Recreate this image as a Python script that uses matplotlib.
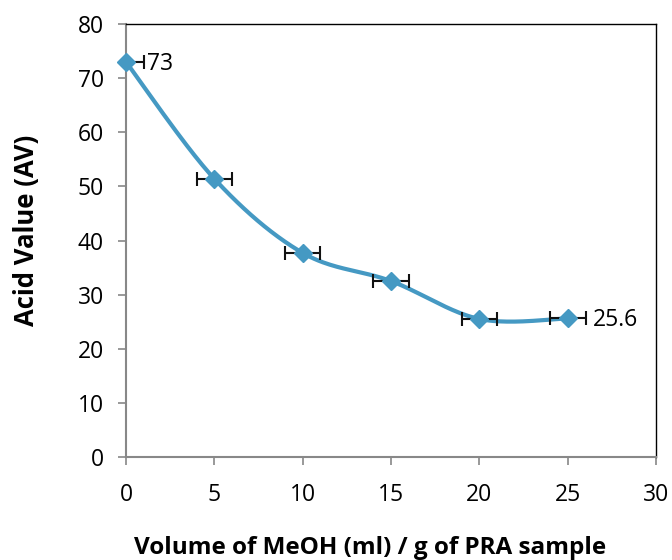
import numpy as np
import matplotlib.pyplot as plt

# datos
volumen = [0, 5, 10, 15, 20, 25]
acidez = [73, 51.4, 37.7, 32.5, 25.5, 25.6]
error_x = [1, 1, 1, 1, 1, 1]

color_linea = '#4599C3'

plt.rcParams['font.family'] = ['Open Sans', 'DejaVu Sans']


# curva suavizada estilo Excel (Bezier con puntos de control de los vecinos)
def suavizar(x, y, n=40):
    x = np.asarray(x, float)
    y = np.asarray(y, float)
    px = np.concatenate([[x[0]], x, [x[-1]]])
    py = np.concatenate([[y[0]], y, [y[-1]]])
    xs, ys = [], []
    t = np.linspace(0, 1, n)
    for i in range(1, len(px) - 2):
        p0 = np.array([px[i], py[i]])
        p3 = np.array([px[i + 1], py[i + 1]])
        p1 = p0 + (np.array([px[i + 1], py[i + 1]]) - np.array([px[i - 1], py[i - 1]])) / 6
        p2 = p3 - (np.array([px[i + 2], py[i + 2]]) - np.array([px[i], py[i]])) / 6
        b = ((1 - t) ** 3)[:, None] * p0 + (3 * (1 - t) ** 2 * t)[:, None] * p1 \
            + (3 * (1 - t) * t ** 2)[:, None] * p2 + (t ** 3)[:, None] * p3
        xs.extend(b[:, 0])
        ys.extend(b[:, 1])
    return xs, ys


fig = plt.figure(figsize=(6.72, 5.6), dpi=100)
ax = fig.add_axes([0.1875, 0.184, 0.789, 0.773])

xs, ys = suavizar(volumen, acidez)
ax.plot(xs, ys, color=color_linea, lw=3, zorder=2)
ax.errorbar(volumen, acidez, xerr=error_x, fmt='none', ecolor='#111111',
            elinewidth=1.5, capsize=5, capthick=1.5, zorder=3)
ax.plot(volumen, acidez, linestyle='none', marker='D', markersize=9,
        color=color_linea, zorder=4, clip_on=False)

ax.annotate('73', (volumen[0], acidez[0]), xytext=(1.2, acidez[0] - 0.3),
            textcoords='data', va='center', ha='left', fontsize=16.5)
ax.annotate('25.6', (volumen[-1], acidez[-1]), xytext=(26.4, acidez[-1] - 0.3),
            textcoords='data', va='center', ha='left', fontsize=16.5)

ax.set_xlim(0, 30)
ax.set_ylim(0, 80)
ax.set_xticks(range(0, 31, 5))
ax.set_yticks(range(0, 81, 10))
ax.tick_params(labelsize=16.5, color='#888888', length=6, width=1.2)
ax.tick_params(axis='x', pad=13)
ax.tick_params(axis='y', pad=10)
for lado in ['left', 'bottom']:
    ax.spines[lado].set_color('#888888')
    ax.spines[lado].set_linewidth(1.5)
for lado in ['top', 'right']:
    ax.spines[lado].set_color('black')
    ax.spines[lado].set_linewidth(1)

ax.set_xlabel('Volume of MeOH (ml) / g of PRA sample', fontsize=17.5,
              fontweight='bold')
ax.set_ylabel('Acid Value (AV)', fontsize=18.5, fontweight='bold')
ax.xaxis.set_label_coords(0.46, -0.183)
ax.yaxis.set_label_coords(-0.163, 0.524)

plt.savefig('out.png', dpi=100)
